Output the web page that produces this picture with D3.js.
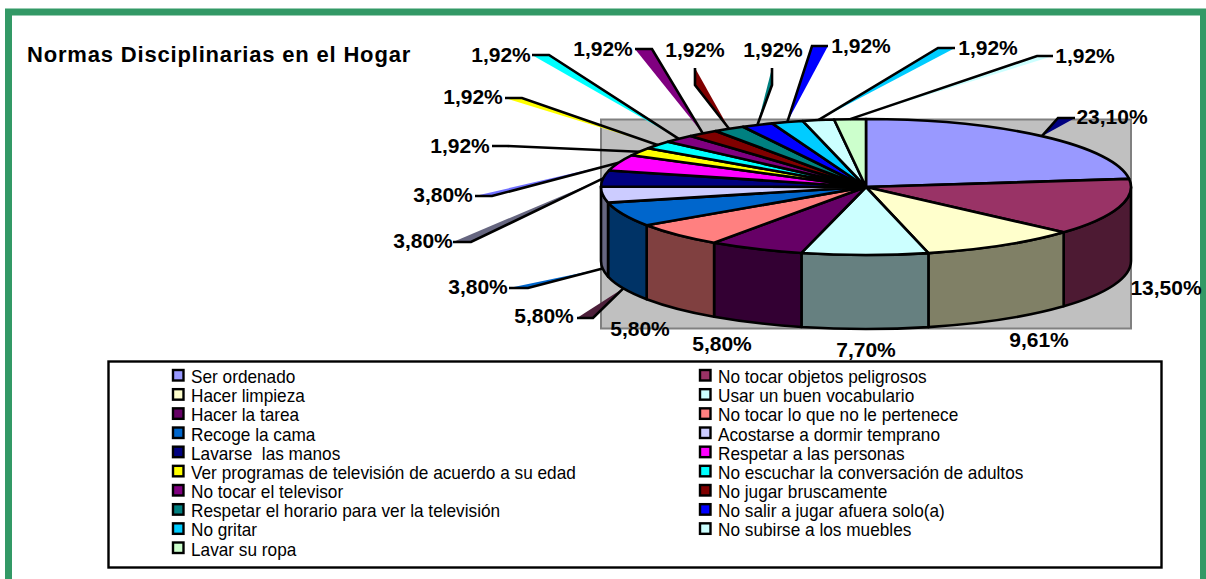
<!DOCTYPE html>
<html><head><meta charset="utf-8">
<script src="https://d3js.org/d3.v7.min.js"></script>
<style>html,body{margin:0;padding:0;background:#fff}svg{display:block}text{font-family:"Liberation Sans",Arial,sans-serif;fill:#000}</style>
</head><body><svg id="c" width="1206" height="579"></svg>
<script>
const categories=["Ser ordenado","No tocar objetos peligrosos","Hacer limpieza","Usar un buen vocabulario","Hacer la tarea","No tocar lo que no le pertenece","Recoge la cama","Acostarse a dormir temprano","Lavarse  las manos","Respetar a las personas","Ver programas de televisión de acuerdo a su edad","No escuchar la conversación de adultos","No tocar el televisor","No jugar bruscamente","Respetar el horario para ver la televisión","No salir a jugar afuera solo(a)","No gritar","No subirse a los muebles","Lavar su ropa"];
const values=[23.10,13.50,9.61,7.70,5.80,5.80,5.80,3.80,3.80,3.80,1.92,1.92,1.92,1.92,1.92,1.92,1.92,1.92,1.92];
const labels=["23,10%","13,50%","9,61%","7,70%","5,80%","5,80%","5,80%","3,80%","3,80%","3,80%","1,92%","1,92%","1,92%","1,92%","1,92%","1,92%","1,92%","1,92%","1,92%"];
const colors=["#9999ff","#993366","#ffffcc","#ccffff","#660066","#ff8080","#0066cc","#ccccff","#000080","#ff00ff","#ffff00","#00ffff","#800080","#800000","#008080","#0000ff","#00ccff","#ccffff","#ccffcc"];
const sideColors=colors.map(c=>{const k=d3.rgb(c);return d3.rgb(k.r/2,k.g/2,k.b/2).formatHex();});
const labelX=[1112,1166,1039,866,722,640,544,478,423,443,460,473,501,603,695,773,861,988,1085];
const labelY=[124,295,347,357,351,336,323,294,248,202,153,104,62,56,57,57,53,55,63];
// leader elbow / end, only for labels that have one: [index, elbowX, elbowY, endX, endY, fill, onSideWall]
const leaders=[
[0,1058,118,1075,118,"#000080",0],
[6,593,318,577,318,"#4d1f3a",1],
[7,528,288,509,288,"#0066cc",1],
[8,471,242,453,242,"#666680",0],
[9,492,196,475,196,"#7070ff",0],
[10,507,146,492,146,"none",0],
[11,522,98,505,98,"#ffff00",0],
[12,549,55,532,55,"#00ffff",0],
[13,652,49,635,49,"#800080",0],
[14,695,85,695,68,"#800000",0],
[15,772,85,772,68,"#008080",0],
[16,812,46,828,46,"#0000ff",0],
[17,938,48,955,48,"#00ccff",0],
[18,1037,56,1053,56,"#ccffff",0]];
const titleText="Normas Disciplinarias en el Hogar";

const cx=866,cy=187,rx=265,ry=68,depth=74,sw=2.6;
const svg=d3.select("#c");
// frame
svg.append("path").attr("d","M8.5 579V12H1203.5V579").attr("fill","none").attr("stroke","#339966").attr("stroke-width",7);
svg.append("text").attr("x",27).attr("y",62).attr("font-size",22).attr("letter-spacing",0.82).attr("font-weight","bold").attr("id","title").text(titleText);
// plot area
svg.append("rect").attr("x",601).attr("y",119.5).attr("width",530).attr("height",209).attr("fill","#c0c0c0").attr("stroke","#808080").attr("stroke-width",2);

const arcs=d3.pie().value(d=>d).sort(null).startAngle(0).endAngle(2*Math.PI)(values);
const rim=a=>[cx+rx*Math.sin(a),cy-ry*Math.cos(a)];
const anchor=(i,wall)=>{const a=(arcs[i].startAngle+arcs[i].endAngle)/2,p=rim(a);return [p[0],p[1]+(wall?depth:0)];};

// leader wedges behind the pie
svg.append("g").selectAll("polygon").data(leaders).join("polygon")
 .attr("points",d=>[anchor(d[0],d[6]),[d[1],d[2]],[d[3],d[4]]].join(" "))
 .attr("fill",d=>d[5]);
// side walls
const lo=Math.PI/2,hi=3*Math.PI/2;
svg.append("g").selectAll("path").data(arcs.filter(d=>d.endAngle>lo&&d.startAngle<hi)).join("path")
 .attr("d",d=>{const a0=Math.max(d.startAngle,lo),a1=Math.min(d.endAngle,hi),p0=rim(a0),p1=rim(a1);
   return `M${p0}A${rx} ${ry} 0 0 1 ${p1}L${p1[0]} ${p1[1]+depth}A${rx} ${ry} 0 0 0 ${p0[0]} ${p0[1]+depth}Z`;})
 .attr("fill",d=>sideColors[d.index]).attr("stroke","#000").attr("stroke-width",sw).attr("stroke-linejoin","round");
// top
const arcGen=d3.arc().innerRadius(0).outerRadius(rx);
svg.append("g").attr("transform",`translate(${cx},${cy}) scale(1,${ry/rx})`)
 .selectAll("path").data(arcs).join("path").attr("d",arcGen)
 .attr("fill",d=>colors[d.index]).attr("stroke","#000").attr("stroke-width",sw).attr("vector-effect","non-scaling-stroke").attr("stroke-linejoin","round");
// leader lines
svg.append("g").selectAll("polyline").data(leaders).join("polyline")
 .attr("points",d=>[anchor(d[0],d[6]),[d[1],d[2]],[d[3],d[4]]].join(" "))
 .attr("fill","none").attr("stroke","#000").attr("stroke-width",sw);
// value labels
svg.append("g").selectAll("text").data(labels).join("text")
 .attr("x",(d,i)=>labelX[i]).attr("y",(d,i)=>labelY[i]).attr("text-anchor","middle")
 .attr("font-size",21).attr("font-weight","bold").text(d=>d);
// legend
svg.append("rect").attr("x",108.5).attr("y",361.5).attr("width",1053).attr("height",206).attr("fill","#fff").attr("stroke","#000").attr("stroke-width",2.4);
const rowY=d3.scaleLinear().domain([0,9]).range([375.5,548]);
const colX=d3.scalePoint().domain([0,1]).range([172,699]);
const items=svg.append("g").selectAll("g").data(categories).join("g")
 .attr("transform",(d,i)=>`translate(${colX(i%2)},${rowY(Math.floor(i/2))})`);
items.append("rect").attr("x",1).attr("y",-5.5).attr("width",10.5).attr("height",10.5).attr("fill",(d,i)=>colors[i]).attr("stroke","#000").attr("stroke-width",2.4);
items.append("text").attr("transform","translate(19,7.5) scale(0.957,1)").attr("font-size",18).style("white-space","pre").text(d=>d);
</script></body></html>
